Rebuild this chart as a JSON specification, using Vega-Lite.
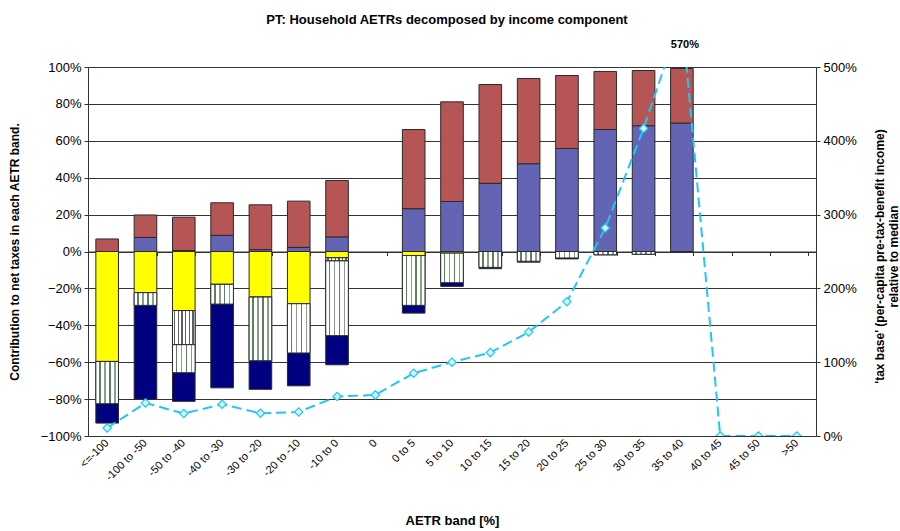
{
  "$schema": "https://vega.github.io/schema/vega-lite/v6.json",
  "width": 728,
  "height": 369,
  "autosize": {"type": "none"},
  "padding": {"left": 88, "top": 67, "right": 84, "bottom": 95},
  "background": "white",
  "config": {
    "font": "Liberation Sans",
    "view": {"stroke": null},
    "axis": {"labelFont": "Liberation Sans", "titleFont": "Liberation Sans", "labelColor": "#000", "titleColor": "#000", "labelOverlap": false}
  },
  "title": {
    "text": "PT: Household AETRs decomposed by income component",
    "font": "Liberation Sans",
    "fontSize": 13,
    "fontWeight": "bold",
    "frame": "group",
    "anchor": "middle",
    "offset": 12,
    "dx": -5
  },
  "datasets": {
    "bars": [
      {"band": "<=-100", "component": "Income tax", "value": 0.068},
      {"band": "<=-100", "component": "Family benefits", "value": -0.596},
      {"band": "<=-100", "component": "Pensions", "value": -0.229},
      {"band": "<=-100", "component": "Unemployment benefits", "value": -0.105},
      {"band": "-100 to -50", "component": "Income tax", "value": 0.122},
      {"band": "-100 to -50", "component": "Employee SSC", "value": 0.076},
      {"band": "-100 to -50", "component": "Family benefits", "value": -0.223},
      {"band": "-100 to -50", "component": "Pensions", "value": -0.069},
      {"band": "-100 to -50", "component": "Unemployment benefits", "value": -0.509},
      {"band": "-50 to -40", "component": "Income tax", "value": 0.181},
      {"band": "-50 to -40", "component": "Employee SSC", "value": 0.005},
      {"band": "-50 to -40", "component": "Family benefits", "value": -0.32},
      {"band": "-50 to -40", "component": "Housing benefits", "value": -0.185},
      {"band": "-50 to -40", "component": "Pensions", "value": -0.152},
      {"band": "-50 to -40", "component": "Unemployment benefits", "value": -0.155},
      {"band": "-40 to -30", "component": "Income tax", "value": 0.177},
      {"band": "-40 to -30", "component": "Employee SSC", "value": 0.087},
      {"band": "-40 to -30", "component": "Family benefits", "value": -0.178},
      {"band": "-40 to -30", "component": "Pensions", "value": -0.107},
      {"band": "-40 to -30", "component": "Unemployment benefits", "value": -0.454},
      {"band": "-30 to -20", "component": "Income tax", "value": 0.243},
      {"band": "-30 to -20", "component": "Employee SSC", "value": 0.01},
      {"band": "-30 to -20", "component": "Family benefits", "value": -0.247},
      {"band": "-30 to -20", "component": "Pensions", "value": -0.345},
      {"band": "-30 to -20", "component": "Unemployment benefits", "value": -0.155},
      {"band": "-20 to -10", "component": "Income tax", "value": 0.251},
      {"band": "-20 to -10", "component": "Employee SSC", "value": 0.022},
      {"band": "-20 to -10", "component": "Family benefits", "value": -0.283},
      {"band": "-20 to -10", "component": "Pensions", "value": -0.267},
      {"band": "-20 to -10", "component": "Unemployment benefits", "value": -0.178},
      {"band": "-10 to 0", "component": "Income tax", "value": 0.307},
      {"band": "-10 to 0", "component": "Employee SSC", "value": 0.078},
      {"band": "-10 to 0", "component": "Family benefits", "value": -0.034},
      {"band": "-10 to 0", "component": "Housing benefits", "value": -0.017},
      {"band": "-10 to 0", "component": "Pensions", "value": -0.405},
      {"band": "-10 to 0", "component": "Unemployment benefits", "value": -0.158},
      {"band": "0 to 5", "component": "Income tax", "value": 0.43},
      {"band": "0 to 5", "component": "Employee SSC", "value": 0.231},
      {"band": "0 to 5", "component": "Family benefits", "value": -0.022},
      {"band": "0 to 5", "component": "Pensions", "value": -0.27},
      {"band": "0 to 5", "component": "Unemployment benefits", "value": -0.042},
      {"band": "5 to 10", "component": "Income tax", "value": 0.54},
      {"band": "5 to 10", "component": "Employee SSC", "value": 0.271},
      {"band": "5 to 10", "component": "Family benefits", "value": -0.009},
      {"band": "5 to 10", "component": "Pensions", "value": -0.16},
      {"band": "5 to 10", "component": "Unemployment benefits", "value": -0.02},
      {"band": "10 to 15", "component": "Income tax", "value": 0.536},
      {"band": "10 to 15", "component": "Employee SSC", "value": 0.369},
      {"band": "10 to 15", "component": "Pensions", "value": -0.086},
      {"band": "10 to 15", "component": "Unemployment benefits", "value": -0.007},
      {"band": "15 to 20", "component": "Income tax", "value": 0.463},
      {"band": "15 to 20", "component": "Employee SSC", "value": 0.475},
      {"band": "15 to 20", "component": "Pensions", "value": -0.053},
      {"band": "15 to 20", "component": "Unemployment benefits", "value": -0.005},
      {"band": "20 to 25", "component": "Income tax", "value": 0.396},
      {"band": "20 to 25", "component": "Employee SSC", "value": 0.558},
      {"band": "20 to 25", "component": "Pensions", "value": -0.035},
      {"band": "20 to 25", "component": "Unemployment benefits", "value": -0.005},
      {"band": "25 to 30", "component": "Income tax", "value": 0.315},
      {"band": "25 to 30", "component": "Employee SSC", "value": 0.661},
      {"band": "25 to 30", "component": "Pensions", "value": -0.018},
      {"band": "30 to 35", "component": "Income tax", "value": 0.30},
      {"band": "30 to 35", "component": "Employee SSC", "value": 0.681},
      {"band": "30 to 35", "component": "Pensions", "value": -0.015},
      {"band": "35 to 40", "component": "Income tax", "value": 0.297},
      {"band": "35 to 40", "component": "Employee SSC", "value": 0.695},
      {"band": "35 to 40", "component": "Pensions", "value": -0.005}
    ],
    "base": [
      {"band": "<=-100", "base": 0.109},
      {"band": "-100 to -50", "base": 0.448},
      {"band": "-50 to -40", "base": 0.304},
      {"band": "-40 to -30", "base": 0.43},
      {"band": "-30 to -20", "base": 0.308},
      {"band": "-20 to -10", "base": 0.326},
      {"band": "-10 to 0", "base": 0.535},
      {"band": "0", "base": 0.557},
      {"band": "0 to 5", "base": 0.851},
      {"band": "5 to 10", "base": 1.0},
      {"band": "10 to 15", "base": 1.13},
      {"band": "15 to 20", "base": 1.408},
      {"band": "20 to 25", "base": 1.82},
      {"band": "25 to 30", "base": 2.82},
      {"band": "30 to 35", "base": 4.168},
      {"band": "35 to 40", "base": 5.7},
      {"band": "40 to 45", "base": 0},
      {"band": "45 to 50", "base": 0},
      {"band": ">50", "base": 0}
    ]
  },
  "resolve": {"scale": {"y": "independent"}, "axis": {"x": "independent"}},
  "layer": [
    {
      "data": {"name": "bars"},
      "transform": [
        {"stack": "value", "groupby": ["band"], "sort": [{"field": "component", "order": "ascending"}], "offset": "zero", "as": ["v0", "v1"]}
      ],
      "encoding": {
        "x": {
          "field": "band",
          "type": "nominal",
          "scale": {
            "domain": ["<=-100", "-100 to -50", "-50 to -40", "-40 to -30", "-30 to -20", "-20 to -10", "-10 to 0", "0", "0 to 5", "5 to 10", "10 to 15", "15 to 20", "20 to 25", "25 to 30", "30 to 35", "35 to 40", "40 to 45", "45 to 50", ">50"],
            "paddingInner": 0.41,
            "paddingOuter": 0.205
          },
          "axis": {
            "orient": "bottom",
            "title": "AETR band [%]",
            "titleFontSize": 13,
            "titleFontWeight": "bold",
            "titleY": 84,
            "titleBaseline": "middle",
            "labelAngle": -45,
            "labelAlign": "right",
            "labelBaseline": "middle",
            "labelFontSize": 11,
            "labelPadding": 5,
            "labelOverlap": false,
            "ticks": false,
            "domain": false
          }
        },
        "y": {
          "field": "v0",
          "type": "quantitative",
          "scale": {"domain": [-1, 1], "nice": false},
          "axis": {
            "orient": "left",
            "format": ".0%",
            "values": [-1, -0.8, -0.6, -0.4, -0.2, 0, 0.2, 0.4, 0.6, 0.8, 1],
            "labelOverlap": false,
            "title": "Contribution to net taxes in each AETR band.",
            "titleFontSize": 12,
            "titleFontWeight": "bold",
            "titleX": -74,
            "titleY": 184.5,
            "titleAngle": -90,
            "titleBaseline": "middle",
            "titleAlign": "center",
            "labelFontSize": 13,
            "labelPadding": 3,
            "tickSize": 4,
            "tickColor": "#333",
            "domainColor": "#333",
            "grid": true,
            "gridColor": "#333",
            "gridWidth": 1
          }
        },
        "y2": {"field": "v1"}
      },
      "layer": [
        {
          "mark": {"type": "bar", "stroke": "#2a2a2a", "strokeWidth": 1},
          "encoding": {
            "color": {
              "field": "component",
              "type": "nominal",
              "legend": null,
              "scale": {
                "domain": ["Employee SSC", "Family benefits", "Housing benefits", "Income tax", "Pensions", "Unemployment benefits"],
                "range": ["#6464b4", "#ffff00", "#ffffff", "#b55555", "#ffffff", "#000080"]
              }
            }
          }
        },
        {
          "transform": [{"filter": "datum.component === 'Housing benefits'"}],
          "mark": {
            "type": "bar", "stroke": "#2a2a2a", "strokeWidth": 1,
            "fill": {"gradient": "linear", "x1": 0, "y1": 0, "x2": 1, "y2": 0, "stops": [
                {"offset": 0, "color": "#ffffff"}, {"offset": 0.07, "color": "#ffffff"},
                {"offset": 0.07, "color": "#606060"}, {"offset": 0.13, "color": "#606060"},
                {"offset": 0.13, "color": "#ffffff"}, {"offset": 0.23, "color": "#ffffff"},
                {"offset": 0.23, "color": "#606060"}, {"offset": 0.29, "color": "#606060"},
                {"offset": 0.29, "color": "#ffffff"}, {"offset": 0.39, "color": "#ffffff"},
                {"offset": 0.39, "color": "#606060"}, {"offset": 0.45, "color": "#606060"},
                {"offset": 0.45, "color": "#ffffff"}, {"offset": 0.55, "color": "#ffffff"},
                {"offset": 0.55, "color": "#606060"}, {"offset": 0.61, "color": "#606060"},
                {"offset": 0.61, "color": "#ffffff"}, {"offset": 0.71, "color": "#ffffff"},
                {"offset": 0.71, "color": "#606060"}, {"offset": 0.77, "color": "#606060"},
                {"offset": 0.77, "color": "#ffffff"}, {"offset": 0.87, "color": "#ffffff"},
                {"offset": 0.87, "color": "#606060"}, {"offset": 0.93, "color": "#606060"},
                {"offset": 0.93, "color": "#ffffff"}, {"offset": 1, "color": "#ffffff"}
              ]}
          }
        },
        {
          "transform": [{"filter": "datum.component === 'Pensions'"}],
          "mark": {
            "type": "bar", "stroke": "#2a2a2a", "strokeWidth": 1,
            "fill": {"gradient": "linear", "x1": 0, "y1": 0, "x2": 1, "y2": 0, "stops": [
                {"offset": 0, "color": "#ffffff"}, {"offset": 0.14, "color": "#ffffff"},
                {"offset": 0.14, "color": "#5e7e5e"}, {"offset": 0.21, "color": "#5e7e5e"},
                {"offset": 0.21, "color": "#ffffff"}, {"offset": 0.36, "color": "#ffffff"},
                {"offset": 0.36, "color": "#8aa08a"}, {"offset": 0.43, "color": "#8aa08a"},
                {"offset": 0.43, "color": "#ffffff"}, {"offset": 0.58, "color": "#ffffff"},
                {"offset": 0.58, "color": "#5e7e5e"}, {"offset": 0.65, "color": "#5e7e5e"},
                {"offset": 0.65, "color": "#ffffff"}, {"offset": 0.8, "color": "#ffffff"},
                {"offset": 0.8, "color": "#8aa08a"}, {"offset": 0.87, "color": "#8aa08a"},
                {"offset": 0.87, "color": "#ffffff"}, {"offset": 1, "color": "#ffffff"}
              ]}
          }
        }
      ]
    },
    {
      "data": {"name": "base"},
      "encoding": {
        "x": {
          "field": "band",
          "type": "nominal",
          "axis": {
            "orient": "bottom",
            "offset": -184.5,
            "labels": false,
            "title": null,
            "ticks": true,
            "tickBand": "extent",
            "tickSize": 4,
            "tickColor": "#333",
            "domain": true,
            "domainColor": "#333"
          }
        }
      },
      "layer": [
        {
          "mark": {"type": "line", "clip": true, "color": "#1ec8f5", "strokeWidth": 2, "strokeDash": [10, 5]},
          "encoding": {
            "y": {
              "field": "base",
              "type": "quantitative",
              "scale": {"domain": [0, 5], "nice": false},
              "axis": {
                "orient": "right",
                "format": ".0%",
                "values": [0, 0.5, 1, 1.5, 2, 2.5, 3, 3.5, 4, 4.5, 5],
                "labelOverlap": false,
                "title": ["'tax base' (per-capita pre-tax-benefit income)", "relative to median"],
                "titleFontSize": 12,
                "titleFontWeight": "bold",
                "titleX": 63,
                "titleY": 189,
                "titleAngle": -90,
                "titleBaseline": "middle",
                "titleAlign": "center",
                "labelFontSize": 13,
                "labelPadding": 3,
                "tickSize": 4,
                "tickColor": "#333",
                "domainColor": "#333",
                "grid": false
              }
            }
          }
        },
        {
          "mark": {"type": "point", "shape": "diamond", "clip": true, "filled": true, "fill": "#ccf5ff", "stroke": "#1ec8f5", "strokeWidth": 1.2, "size": 70, "opacity": 1},
          "encoding": {
            "y": {"field": "base", "type": "quantitative"}
          }
        },
        {
          "transform": [{"filter": "datum.base > 5"}],
          "mark": {"type": "text", "fontSize": 11, "fontWeight": "bold", "font": "Liberation Sans", "dy": -22, "dx": 3, "color": "#000"},
          "encoding": {
            "y": {"datum": 5},
            "text": {"field": "base", "type": "quantitative", "format": ".0%"}
          }
        }
      ]
    }
  ]
}
